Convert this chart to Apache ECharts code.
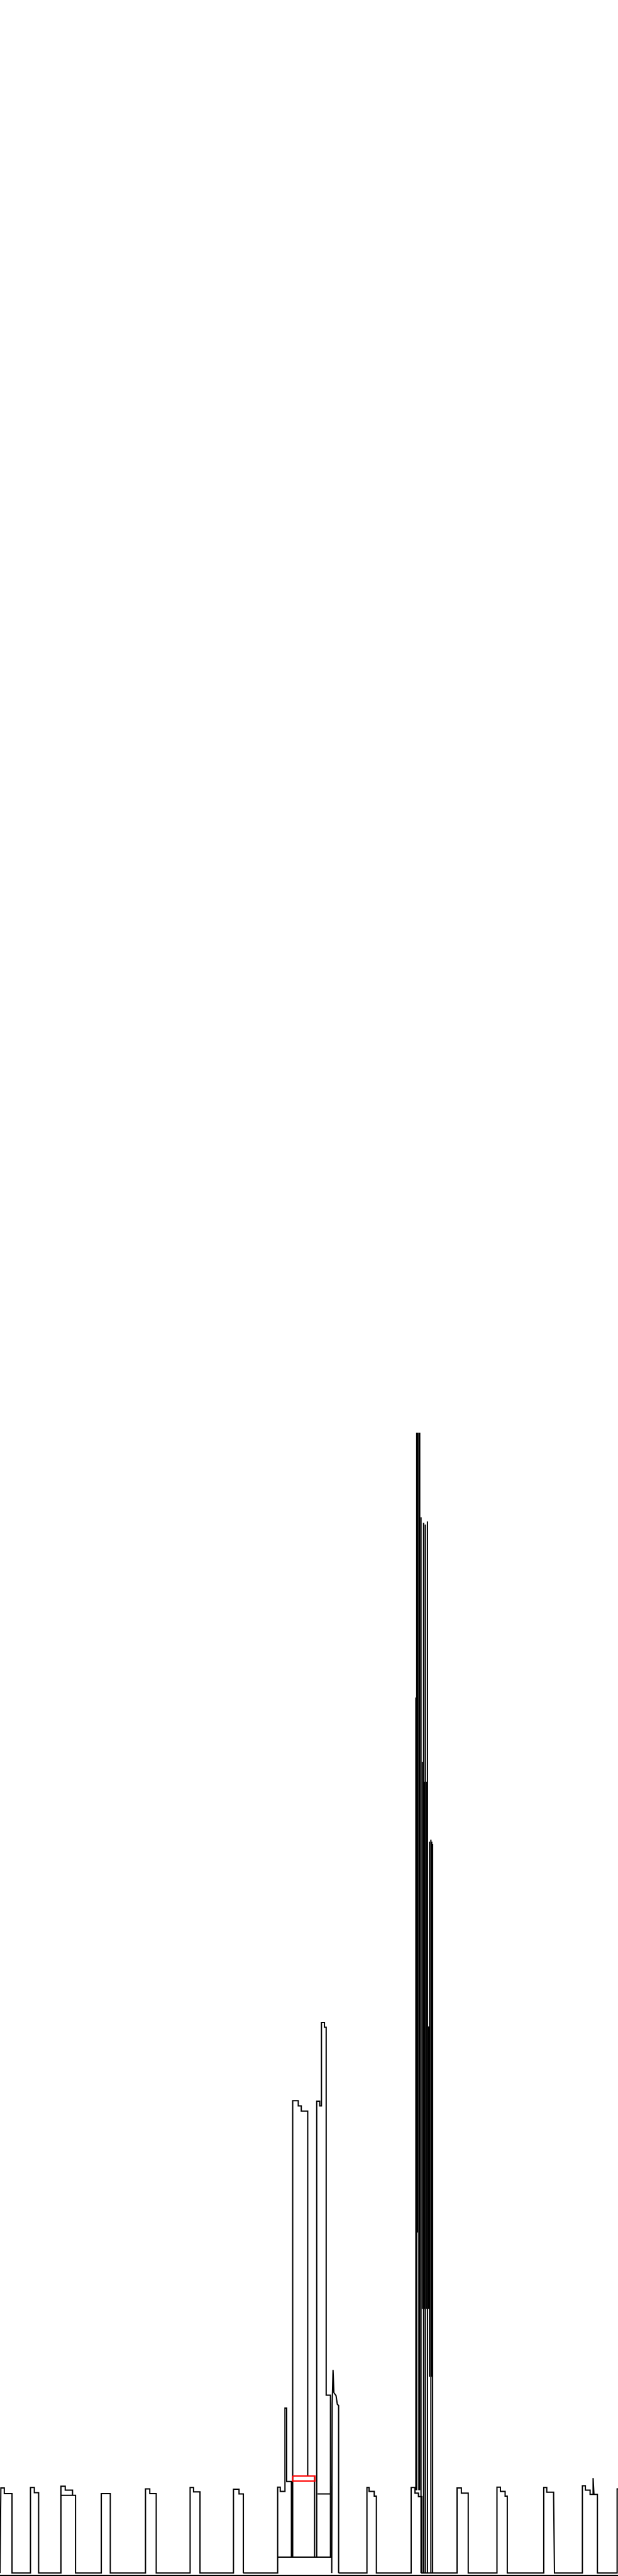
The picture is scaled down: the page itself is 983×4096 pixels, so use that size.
<!DOCTYPE html>
<html>
<head>
<meta charset="utf-8">
<script src="https://cdn.jsdelivr.net/npm/echarts@6/dist/echarts.min.js"></script>
<style>
html,body{margin:0;padding:0;background:#fff;}
#chart{width:983px;height:4096px;}
</style>
</head>
<body>
<div id="chart"></div>
<script>
// Skyline outline: x positions and heights above the axis line (reference units)
const leftX = [0, 2,2,10,10,28,28, 71,71,80,80,90,90, 142,142,152,152,169,169,143,169,176,176, 236,236,257,257, 339,339,349,349,364,364, 443,443,451,451,466,466, 544,544,557,557,567,567];
const leftH = [5, 5,203,203,190,190,5, 5,204,204,192,192,5, 5,207,207,198,198,186,186,186,186,5, 5,190,190,5, 5,201,201,190,190,5, 5,204,204,194,194,5, 5,200,200,189,189,5];

const centerX = [567, 647,647,653,653,664,664,668,668,679,679,647,682, 682,695,695,702,702,717,717,733,733,738,738,745,745,749,749,756,756,760,760,770,770,740,770,770,682,773,773, 774,774,776,777,778,783,786,789,789];
const centerH = [5, 5,205,205,195,195,389,389,218,218,42,42,42, 1105,1105,1093,1093,1081,1081,231,231,42,42,1104,1104,1093,1093,1287,1287,1276,1276,419,419,189,189,189,42,42,42,5, 5,398,478,478,425,418,398,395,5];

const rightX = [789, 855,855,860,860,872,872,877,877, 958,958,967,967,975,975,983,983, 1065,1065,1075,1075,1091,1091, 1158,1158,1166,1166,1177,1177,1182,1182, 1267,1267,1274,1274,1290,1290,1292,1292, 1357,1357,1364,1364,1375,1375,1382,1382,1384,1384,1392,1392, 1438,1438,1440];
const rightH = [5, 5,204,204,195,195,184,184,5, 5,204,204,191,191,183,183,5, 5,203,203,191,191,5, 5,205,205,195,195,184,184,5, 5,204,204,193,193,183,183,5, 5,208,208,198,198,188,188,226,226,188,188,5, 5,201,201];

// Tower cluster strokes
const towerX      = [969, 971, 973, 976, 978, 981, 984, 987, 989, 991, 994, 996, 999, 1001, 1004, 1006, 1008];
const towerTop    = [2044,2661,2661,2661,2661,2464,1894,2451,1848,2447,1848,2454,1278,1708, 1713, 1708, 1703];
const towerBottom = [198, 198, 798, 198, 198, 5,   620, 5,   620, 5,   620, 5,   620, 462,  5,    462,  5];

// Red marker box
const boxX = [682, 734, 734, 682, 682];
const boxH = [231, 231, 219, 219, 231];

function pairs(xs, hs){ return xs.map((x,i)=>[x, hs[i]]); }

const black = {color:'#000', width:2, join:'miter'};
const series = [];
[[leftX,leftH],[centerX,centerH],[rightX,rightH]].forEach(([xs,hs])=>{
  series.push({type:'line', data:pairs(xs,hs), showSymbol:false, symbol:'none', lineStyle:black, silent:true, clip:false});
});
towerX.forEach((x,i)=>{
  series.push({type:'line', data:[[x,towerBottom[i]],[x,towerTop[i]]], symbol:'none', lineStyle:{color:'#000', width:2}, silent:true});
});
series.push({type:'line', data:pairs(boxX,boxH), symbol:'none', lineStyle:{color:'#ff0000', width:2, join:'miter'}, silent:true, z:5});

const chart = echarts.init(document.getElementById('chart'));
chart.setOption({
  animation:false,
  backgroundColor:'#fff',
  grid:{left:0, right:0, top:0, bottom:1.4, containLabel:false},
  xAxis:{type:'value', min:0, max:1440, axisLine:{show:true, lineStyle:{color:'#000', width:2}}, axisTick:{show:false}, axisLabel:{show:false}, splitLine:{show:false}},
  yAxis:{type:'value', min:0, max:5998, show:false, splitLine:{show:false}},
  series:series
});
</script>
</body>
</html>
